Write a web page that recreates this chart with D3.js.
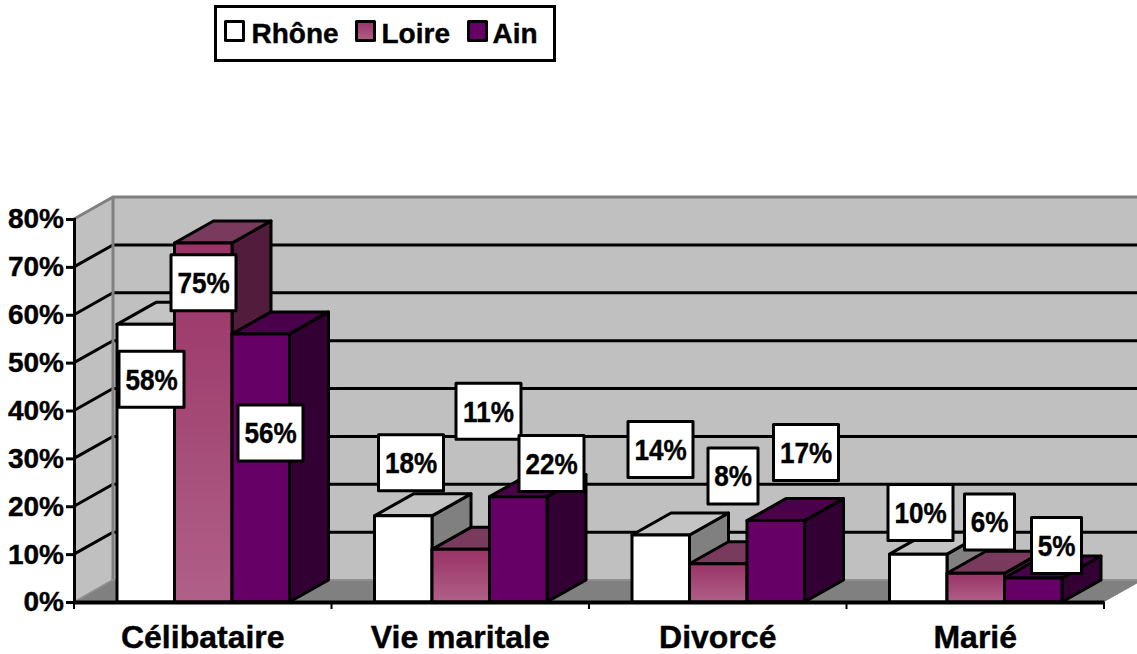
<!DOCTYPE html>
<html>
<head>
    <title>Situation familiale</title>
    <script src="https://d3js.org/d3.v7.min.js"></script>
    <style>
        html, body { margin: 0; padding: 0; background: #fff; }
        svg { display: block; }
        text { font-family: "Liberation Sans", Arial, sans-serif; font-weight: bold; fill: #000; stroke: #000; stroke-width: 0.4; }
        .edge { stroke: #000; stroke-width: 3; stroke-linejoin: round; }
    </style>
</head>
<body>
    <svg width="1137" height="654" id="chart"></svg>

    <script>
        // Data
        const categories = ["Célibataire", "Vie maritale", "Divorcé", "Marié"];
        const seriesNames = ["Rhône", "Loire", "Ain"];
        const rhone = [58, 18, 14, 10];
        const loire = [75, 11, 8, 6];
        const ain = [56, 22, 17, 5];
        const yTicks = [0, 10, 20, 30, 40, 50, 60, 70, 80];

        // Label nudges, same order as the bars (Excel placed these by hand)
        const labelNudges = [
            [5.75, 55.0], [0.25, 39.7], [9.75, 99.0],
            [7.75, -53.0], [27.75, -138.0], [33.25, -33.3],
            [-0.25, -85.6], [14.75, -87.8], [30.25, -68.2],
            [2.25, -41.6], [13.75, -51.3], [23.25, -32.6]
        ];

        // Setup
        const svg = d3.select("#chart");
        const depthX = 39, depthY = 22;
        const left = 74, right = 1104, y0 = 602, yTop = 219;

        const x = d3.scaleBand().domain(categories).range([left, right]);
        const xSeries = d3.scaleBand().domain(seriesNames).range([43, 43 + 172.5]);
        const y = d3.scaleLinear().domain([0, 80]).range([y0, yTop]);

        const faces = {
            "Rhône": { front: "#ffffff", top: "#c4c4c4", side: "#808080" },
            "Loire": { front: "url(#loireGrad)", top: "#7a3a5e", side: "#521c3c" },
            "Ain": { front: "#660066", top: "#4a004a", side: "#330033" }
        };

        const defs = svg.append("defs");
        const grad = defs.append("linearGradient").attr("id", "loireGrad")
            .attr("x1", 0).attr("y1", 0).attr("x2", 0).attr("y2", 1);
        grad.append("stop").attr("offset", "0%").attr("stop-color", "#993366");
        grad.append("stop").attr("offset", "100%").attr("stop-color", "#b06088");

        const pts = a => a.map(p => p.join(",")).join(" ");

        // Walls and floor
        const walls = svg.append("g");
        walls.append("polygon")
            .attr("points", pts([[left, y0], [left + depthX, y0 - depthY], [left + depthX, yTop - depthY], [left, yTop]]))
            .attr("fill", "#c0c0c0");
        walls.append("rect")
            .attr("x", left + depthX).attr("y", yTop - depthY)
            .attr("width", 1137 - left - depthX).attr("height", y0 - yTop)
            .attr("fill", "#c0c0c0");
        walls.append("polygon")
            .attr("points", pts([[left, y0], [right, y0], [right + depthX, y0 - depthY], [left + depthX, y0 - depthY]]))
            .attr("fill", "#808080");

        // Gridlines
        const grid = svg.append("g");
        yTicks.filter(t => t > 0 && t < 80).forEach(t => {
            grid.append("polyline")
                .attr("points", pts([[left, y(t)], [left + depthX, y(t) - depthY], [1137, y(t) - depthY]]))
                .attr("fill", "none").attr("stroke", "#000").attr("stroke-width", 3);
        });
        grid.append("polyline")
            .attr("points", pts([[left, yTop], [left + depthX, yTop - depthY], [1137, yTop - depthY]]))
            .attr("fill", "none").attr("stroke", "#808080").attr("stroke-width", 3);
        grid.append("line")
            .attr("x1", left + depthX).attr("x2", left + depthX)
            .attr("y1", yTop - depthY).attr("y2", y0 - depthY)
            .attr("stroke", "#808080").attr("stroke-width", 3);
        grid.append("polyline")
            .attr("points", pts([[left, y0], [left + depthX, y0 - depthY], [1137, y0 - depthY]]))
            .attr("fill", "none").attr("stroke", "#8f8f8f").attr("stroke-width", 2);

        // Bars, left to right so that the later ones cover the side faces
        const barData = [];
        categories.forEach((c, i) => {
            barData.push({ cat: c, s: "Rhône", v: rhone[i] });
            barData.push({ cat: c, s: "Loire", v: loire[i] });
            barData.push({ cat: c, s: "Ain", v: ain[i] });
        });

        const bar = svg.append("g").selectAll("g")
            .data(barData)
            .enter().append("g")
            .attr("class", "bar");

        const barX = d => x(d.cat) + xSeries(d.s);
        const w = xSeries.bandwidth();

        bar.append("polygon").attr("class", "edge")
            .attr("fill", d => faces[d.s].side)
            .attr("points", d => pts([
                [barX(d) + w, y(d.v)], [barX(d) + w + depthX, y(d.v) - depthY],
                [barX(d) + w + depthX, y0 - depthY], [barX(d) + w, y0]
            ]));
        bar.append("polygon").attr("class", "edge")
            .attr("fill", d => faces[d.s].top)
            .attr("points", d => pts([
                [barX(d), y(d.v)], [barX(d) + depthX, y(d.v) - depthY],
                [barX(d) + w + depthX, y(d.v) - depthY], [barX(d) + w, y(d.v)]
            ]));
        bar.append("rect").attr("class", "edge")
            .attr("x", barX).attr("y", d => y(d.v))
            .attr("width", w).attr("height", d => y0 - y(d.v))
            .attr("fill", d => faces[d.s].front);

        // Axes
        const yAxis = svg.append("g")
            .attr("transform", `translate(${left},0)`)
            .call(d3.axisLeft(y).tickValues(yTicks).tickFormat(t => t + "%").tickSize(8).tickPadding(2));
        yAxis.selectAll("line").attr("stroke", "#000").attr("stroke-width", 3);
        yAxis.select(".domain").attr("stroke", "#000").attr("stroke-width", 3);
        yAxis.selectAll("text").attr("font-size", 28).style("font-family", null);

        const xAxis = svg.append("g")
            .attr("transform", `translate(0,${y0})`)
            .call(d3.axisBottom(x).tickSize(0).tickPadding(23));
        xAxis.select(".domain").attr("stroke", "#000").attr("stroke-width", 4);
        xAxis.selectAll("text").attr("font-size", 32).style("font-family", null);

        // Tick marks sit between the categories
        svg.append("g").selectAll("line")
            .data(categories.concat(["end"]))
            .enter().append("line")
            .attr("x1", (d, i) => left + i * x.step()).attr("x2", (d, i) => left + i * x.step())
            .attr("y1", y0).attr("y2", y0 + 7)
            .attr("stroke", "#000").attr("stroke-width", 2);

        // Data labels
        const label = svg.append("g").selectAll("g")
            .data(barData)
            .enter().append("g")
            .attr("transform", (d, i) => `translate(${barX(d) + w / 2 + labelNudges[i][0]},${y(d.v) + labelNudges[i][1]})`);
        label.append("rect")
            .attr("class", "edge")
            .attr("fill", "#fff")
            .attr("x", d => d.v < 10 ? -25 : -32.5).attr("y", -28)
            .attr("width", d => d.v < 10 ? 50 : 65).attr("height", 56);
        // the reference glyphs are a bit narrower than Arial, squeeze them
        label.append("text")
            .attr("text-anchor", "middle").attr("dy", "0.36em")
            .attr("font-size", 29)
            .attr("transform", "scale(0.9,1)")
            .text(d => d.v + "%");

        // Legend
        const legend = svg.append("g");
        legend.append("rect")
            .attr("x", 215.5).attr("y", 6.5).attr("width", 339).attr("height", 54)
            .attr("fill", "#fff").attr("stroke", "#000").attr("stroke-width", 3);
        const legendX = d3.scaleOrdinal().domain(seriesNames).range([225.5, 356.5, 468.5]);
        const legendItem = legend.selectAll("g")
            .data(seriesNames)
            .enter().append("g")
            .attr("transform", d => `translate(${legendX(d)},21.5)`);
        legendItem.append("rect")
            .attr("class", "edge")
            .attr("width", 18).attr("height", 19)
            .attr("fill", d => faces[d].front);
        legendItem.append("text")
            .attr("x", (d, i) => 26 - i).attr("y", 21.5)
            .attr("font-size", 28)
            .text(d => d);
    </script>
</body>
</html>
